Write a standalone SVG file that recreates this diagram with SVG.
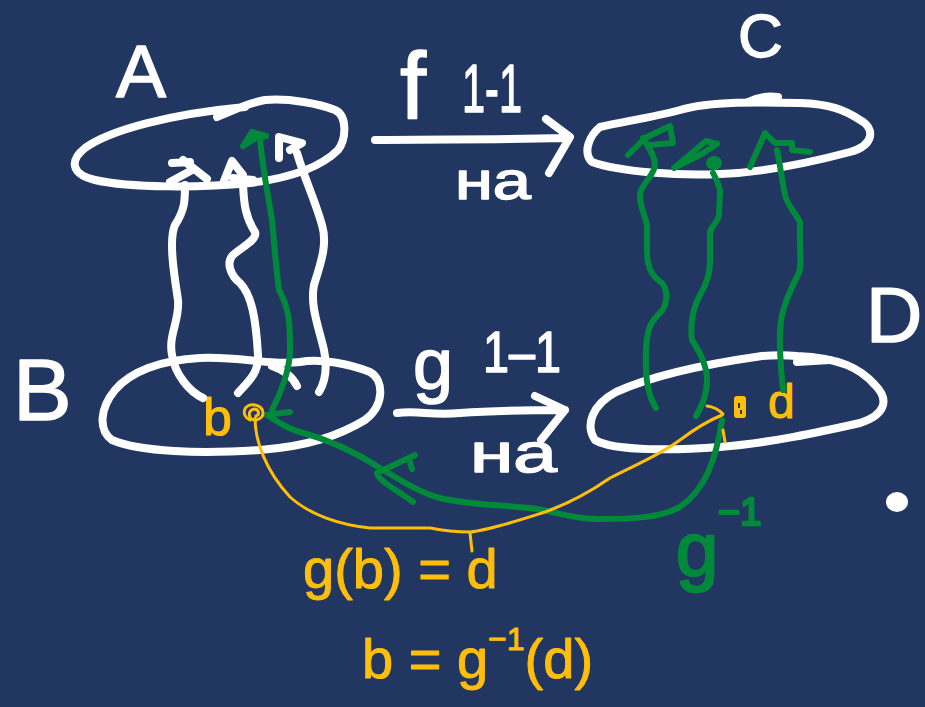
<svg xmlns="http://www.w3.org/2000/svg" width="925" height="707" viewBox="0 0 925 707">
<style>
.ws{fill:none;stroke:#fff;stroke-width:8;stroke-linecap:round;stroke-linejoin:round}
.gs{fill:none;stroke:#00893b;stroke-width:6;stroke-linecap:round;stroke-linejoin:round}
.ys{fill:none;stroke:#ffbe0a;stroke-width:3;stroke-linecap:round;stroke-linejoin:round}
.t{font-family:"Liberation Sans",Arial,sans-serif;stroke-linejoin:round;stroke-linecap:round}
.wt{fill:#fff;stroke:#fff;stroke-width:1.5}
.gt{fill:#00893b;stroke:#00893b;stroke-width:2.5}
.yt{fill:#ffbe0a;stroke:#ffbe0a;stroke-width:1}
</style>
<rect width="925" height="707" fill="#213761"/>

<g id="nodeA">
<path class="ws" d="M217,117 C235,110 245,104 265,100 C290,98 320,104 335,110 C348,116 346,140 338,150 C320,168 290,178 250,183 C200,188 130,188 95,180 C70,174 70,160 85,148 C110,130 170,114 245,107"/>
<text class="t wt" x="116" y="97" font-size="75">A</text>
</g>

<g id="nodeB">
<path class="ws" d="M200,358 C160,360 130,372 115,390 C100,408 98,430 112,440 C140,452 200,454 260,450 C310,446 340,435 365,420 C385,405 384,380 370,372 C350,364 320,358 300,362 C270,366 240,356 200,358 Z"/>
<path class="ws" d="M272,366 Q290,372 297,386"/>
<text class="t wt" x="13" y="420" font-size="88">B</text>
<text class="t yt" x="203" y="435" font-size="52">b</text>
</g>

<g id="nodeC">
<path class="ws" d="M600,127 C590,135 582,152 592,162 C620,172 680,176 720,174 C770,172 820,160 850,152 C875,145 875,128 860,120 C845,110 830,104 800,103 C760,102 710,101 680,110 C650,118 620,122 600,127 Z"/>
<path class="ws" d="M748,102 Q762,95 778,97"/>
<text class="t wt" x="738" y="57" font-size="62">C</text>
</g>

<g id="nodeD">
<path class="ws" d="M762,356 C720,362 660,372 616,392 C592,405 585,425 595,440 C615,452 680,450 720,447 C770,443 820,432 860,423 C885,415 890,400 875,385 C860,368 840,358 797,356 C785,355 775,355 762,356 Z"/>
<path class="ws" d="M797,362 L830,360"/>
<text class="t wt" x="866" y="342" font-size="78">D</text>
<text class="t yt" x="768" y="418" font-size="48">d</text>
<rect x="734" y="396" width="12" height="22" rx="3" fill="#ffbe0a"/>
<path d="M739,403 L739,408 M741,410 L741,414" stroke="#213761" stroke-width="2"/>
</g>

<g id="connectors">
<!-- f arrow -->
<path class="ws" d="M375,140 C440,139 500,140 563,138 M546,119 L570,137 L549,173"/>
<text class="t wt" x="400" y="119" font-size="94">f</text>
<text class="t wt" x="462" y="112" font-size="68" textLength="60" lengthAdjust="spacingAndGlyphs">1-1</text>
<text class="t wt" x="455" y="199" font-size="54" textLength="76" lengthAdjust="spacingAndGlyphs">на</text>
<!-- g arrow -->
<path class="ws" d="M397,413 C420,410 430,416 460,413 C500,410 530,410 565,410 M535,396 L565,410 L541,440"/>
<text class="t wt" x="413" y="389" font-size="72">g</text>
<text class="t wt" x="483" y="372" font-size="58" textLength="78" lengthAdjust="spacingAndGlyphs">1–1</text>
<text class="t wt" x="470" y="472" font-size="56" textLength="87" lengthAdjust="spacingAndGlyphs">на</text>

<!-- white wavy lines between B and A -->
<path class="ws" d="M185,185 C185,200 185,210 175,225 C168,240 175,280 178,300 C180,320 168,335 172,355 C175,375 190,392 203,398"/>
<path class="ws" d="M243,185 C244,200 244,215 255,232 C258,240 240,248 233,255 C226,262 230,275 240,283 C252,295 256,320 258,355 C259,372 250,380 238,393"/>
<path class="ws" d="M297,153 C305,180 315,200 322,225 C328,245 320,265 314,285 C310,305 318,325 324,350 C328,370 325,382 319,392"/>
<path class="ws" d="M172,163 L190,162 M183,160 L207,179 M170,182 L194,169"/>
<path class="ws" d="M224,181 L232,161 L243,175 L240,182 M233,178 L253,180"/>
<path class="ws" d="M279,158 L279,137 L302,143 L290,150"/>

<!-- green arrow b up to A -->
<path class="gs" d="M272,410 C280,395 290,370 290,350 C290,325 290,310 279,290 C276,270 274,240 272,220 C268,195 262,165 260,138"/>
<path class="gs" d="M243,146 L252,132 L266,136 L256,138 Z" stroke-width="8" fill="#00893b"/>

<!-- green lines D up to C -->
<path class="gs" d="M656,408 C648,395 645,380 646,350 C647,330 650,322 660,313 C668,305 668,290 662,283 C650,275 647,265 647,250 L647,225 C645,215 640,208 640,195 C640,185 655,175 655,165 C655,155 648,147 643,138"/>
<path class="gs" d="M628,155 L645,138 L670,126 L673,143 L650,145"/>
<path class="gs" d="M696,416 C702,405 707,395 707,380 C707,365 700,352 692,340 C690,325 692,310 700,295 C706,285 710,275 710,262 L710,232 C712,225 718,222 719,215 L720,190 C718,182 716,178 713,173"/>
<path class="gs" d="M674,168 L706,141 L717,144 L700,155 Z" fill="#00893b"/>
<ellipse cx="714" cy="163" rx="8" ry="7" fill="#00893b"/>
<path class="gs" d="M783,390 C781,370 779,350 780,330 C781,310 790,290 798,275 C802,268 800,255 800,240 L800,222 C795,212 787,205 785,195 C782,180 780,165 777,150"/>
<path class="gs" d="M750,167 L765,133 L775,143 L792,143 L792,150 L810,152"/>

<!-- green inverse curve D to b -->
<path class="gs" d="M722,420 C716,460 705,490 680,507 C660,518 630,519 600,519 C570,519 560,512 530,508 C500,505 470,505 440,498 C420,493 400,480 380,468 C360,455 330,440 300,432 C285,428 275,420 267,415 M267,415 L290,412"/>
<path class="gs" d="M377,473 L415,455 M410,462 L412,469 M378,476 C385,485 400,492 413,502"/>
<text class="t gt" x="676" y="576" font-size="76">g<tspan x="718" dy="-51" font-size="38">−1</tspan></text>

<!-- yellow curve b to d -->
<path class="ys" d="M255,418 C255,440 265,470 290,497 C310,515 340,525 370,528 L430,528 C440,530 450,532 470,532 C490,530 520,520 545,512 C570,503 590,492 610,478 C635,465 660,455 680,440 C700,425 710,420 722,415"/>
<path class="ys" d="M707,406 Q716,407 723,414" stroke-width="5"/>
<path class="ys" d="M723,430 L725,442 M470,533 L472,551"/>
<path class="ys" d="M250,420 C240,415 244,403 255,405 C265,407 266,418 256,420 C248,421 247,410 254,409 C259,409 260,415 256,416"/>
</g>

<g id="equations">
<text class="t yt" x="303" y="588" font-size="56">g(b) = d</text>
<text class="t yt" x="362" y="678" font-size="56">b = g<tspan dy="-28" font-size="32">−1</tspan><tspan dy="28">(d)</tspan></text>
</g>

<ellipse cx="897" cy="502" rx="11" ry="10" fill="#fff"/>
</svg>
